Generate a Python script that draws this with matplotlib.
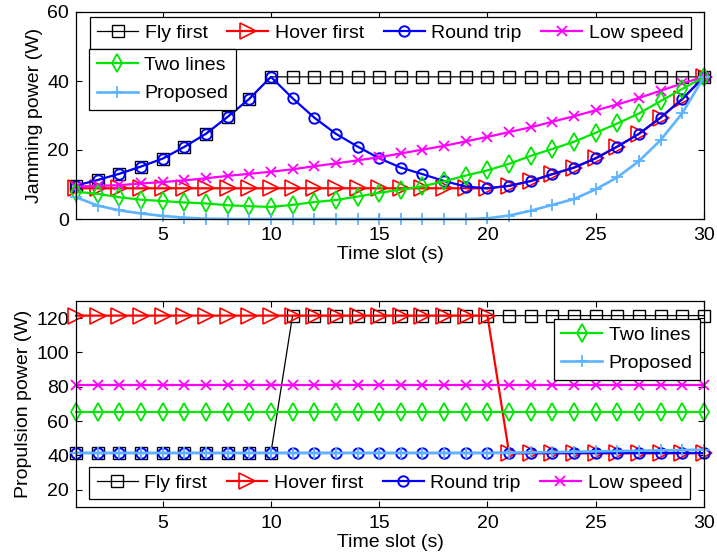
import matplotlib
matplotlib.use("Agg")
import matplotlib.pyplot as plt
import numpy as np

plt.rcParams['font.family'] = ['Liberation Sans', 'DejaVu Sans']
plt.rcParams['font.size'] = 14

t = list(range(1, 31))

# Jamming power (W)
jam_fly_first = [9.7, 11.3, 13.1, 15.2, 17.5, 20.9, 24.7, 29.6, 34.8, 41.2,
                 41.2, 41.2, 41.2, 41.2, 41.2, 41.2, 41.2, 41.2, 41.2, 41.2,
                 41.2, 41.2, 41.2, 41.2, 41.2, 41.2, 41.2, 41.2, 41.2, 41.2]
jam_hover_first = [8.9, 8.9, 8.9, 8.9, 8.9, 8.9, 8.9, 8.9, 8.9, 8.9,
                   8.9, 8.9, 8.9, 8.9, 8.9, 8.9, 8.9, 8.9, 8.9, 8.9,
                   9.6, 11.0, 13.0, 14.9, 17.6, 21.0, 24.7, 29.4, 34.8, 41.2]
jam_round_trip = [9.7, 11.3, 13.1, 15.2, 17.5, 20.9, 24.7, 29.6, 34.8, 41.2,
                  35.0, 29.4, 24.7, 21.0, 17.6, 14.9, 13.0, 11.0, 9.4, 8.9,
                  9.6, 11.0, 13.0, 14.9, 17.6, 21.0, 24.7, 29.4, 34.8, 41.2]
jam_low_speed = [9.4, 9.6, 9.8, 10.3, 10.7, 11.2, 11.8, 12.5, 13.1, 13.7,
                 14.4, 15.3, 16.1, 17.0, 17.9, 19.0, 20.1, 21.2, 22.5, 23.8,
                 25.2, 26.6, 28.2, 29.8, 31.5, 33.2, 35.1, 37.2, 39.3, 41.2]
jam_two_lines = [7.9, 7.3, 6.3, 5.6, 5.2, 4.8, 4.5, 4.0, 3.7, 3.5,
                 4.1, 4.9, 5.5, 6.5, 7.6, 8.5, 9.5, 10.9, 12.6, 14.1,
                 16.0, 18.3, 20.3, 22.4, 25.0, 27.7, 30.6, 34.2, 37.7, 41.2]
jam_proposed = [6.3, 3.9, 2.5, 1.6, 0.9, 0.4, 0.1, 0.0, 0.0, 0.0,
                0.0, 0.0, 0.0, 0.0, 0.0, 0.0, 0.0, 0.0, 0.0, 0.2,
                1.0, 2.4, 4.1, 5.8, 8.6, 12.1, 16.8, 22.9, 30.7, 41.2]

# Propulsion power (W)
prop_fly_first = [41.5] * 10 + [121.5] * 20
prop_hover_first = [121.5] * 20 + [41.3] * 10
prop_round_trip = [41.5] * 30
prop_low_speed = [81.0] * 30
prop_two_lines = [65.5] * 30
prop_proposed = [41.5] * 20 + [41.7, 41.8, 42.0, 42.2, 42.4, 42.6, 42.8, 43.0, 43.2, 43.4]

labels = ['Fly first', 'Hover first', 'Round trip', 'Low speed', 'Two lines', 'Proposed']
light_blue = '#5CB3FF'
styles = [
    dict(color='k', marker='s', ms=8.5, mfc='none', mew=1.0, lw=0.9),
    dict(color='#FF0000', marker='>', ms=11, mfc='none', mew=1.2, lw=1.6),
    dict(color='#0000FF', marker='o', ms=7.5, mfc='none', mew=1.4, lw=1.6),
    dict(color='#FF00FF', marker='x', ms=7, mew=1.3, lw=1.6),
    dict(color='#00E600', marker='d', ms=9, mfc='none', mew=1.3, lw=1.6),
    dict(color=light_blue, marker='+', ms=9, mew=1.3, lw=1.9),
]

W, H = 717, 559
fig = plt.figure(figsize=(W / 100, H / 100), dpi=100)

def ax_rect(l, r, top, bot):
    return [l / W, 1 - bot / H, (r - l) / W, (bot - top) / H]

ax1 = fig.add_axes(ax_rect(76, 704, 12, 219))
ax2 = fig.add_axes(ax_rect(76, 704, 301, 507))

def style_axes(ax):
    ax.tick_params(direction='in', top=True, right=True, length=4, width=0.8,
                   labelsize=14)
    ax.tick_params(axis='x', pad=5.5)
    ax.tick_params(axis='y', pad=5)
    for s in ax.spines.values():
        s.set_linewidth(0.9)
    ax.set_xlim(1, 30)
    ax.set_xticks([5, 10, 15, 20, 25, 30])
    ax.set_xlabel('Time slot (s)', labelpad=1.5)

jam = [jam_fly_first, jam_hover_first, jam_round_trip, jam_low_speed, jam_two_lines, jam_proposed]
prop = [prop_fly_first, prop_hover_first, prop_round_trip, prop_low_speed, prop_two_lines, prop_proposed]

h1 = []
for y, lab, st in zip(jam, labels, styles):
    h1 += ax1.plot(t, y, label=lab, clip_on=False, **st)
h2 = []
for y, lab, st in zip(prop, labels, styles):
    h2 += ax2.plot(t, y, label=lab, clip_on=False, **st)

style_axes(ax1)
ax1.set_ylim(0, 60)
ax1.set_yticks([0, 20, 40, 60])
ax1.set_ylabel('Jamming power (W)', labelpad=3)

style_axes(ax2)
ax2.set_ylim(10, 130)
ax2.set_yticks([20, 40, 60, 80, 100, 120])
ax2.set_ylabel('Propulsion power (W)', labelpad=3)

leg_kw = dict(frameon=True, fancybox=False, framealpha=1, edgecolor='k',
              fontsize=14, handlelength=2.1, handletextpad=0.35, borderpad=0.38,
              labelspacing=0.55, borderaxespad=0)

def fix_frame(leg):
    leg.get_frame().set_linewidth(0.9)

# top axes legends
lg1 = ax1.legend(h1[:4], labels[:4], ncol=4, loc='upper left', mode='expand',
                 bbox_to_anchor=(0.0223, 0.821, 0.957, 0.155), columnspacing=0.6, **leg_kw)
fix_frame(lg1)
ax1.add_artist(lg1)
lg2 = ax1.legend(h1[4:], labels[4:], loc='upper left',
                 bbox_to_anchor=(0.0213, 0.821), **leg_kw)
fix_frame(lg2)

# bottom axes legends
lg3 = ax2.legend(h2[:4], labels[:4], ncol=4, loc='lower left', mode='expand',
                 bbox_to_anchor=(0.0213, 0.039, 0.956, 0.165), columnspacing=0.6, **leg_kw)
fix_frame(lg3)
ax2.add_artist(lg3)
lg4 = ax2.legend(h2[4:], labels[4:], loc='upper right',
                 bbox_to_anchor=(0.994, 0.913), **leg_kw)
fix_frame(lg4)

fig.savefig('out.png', dpi=100)
